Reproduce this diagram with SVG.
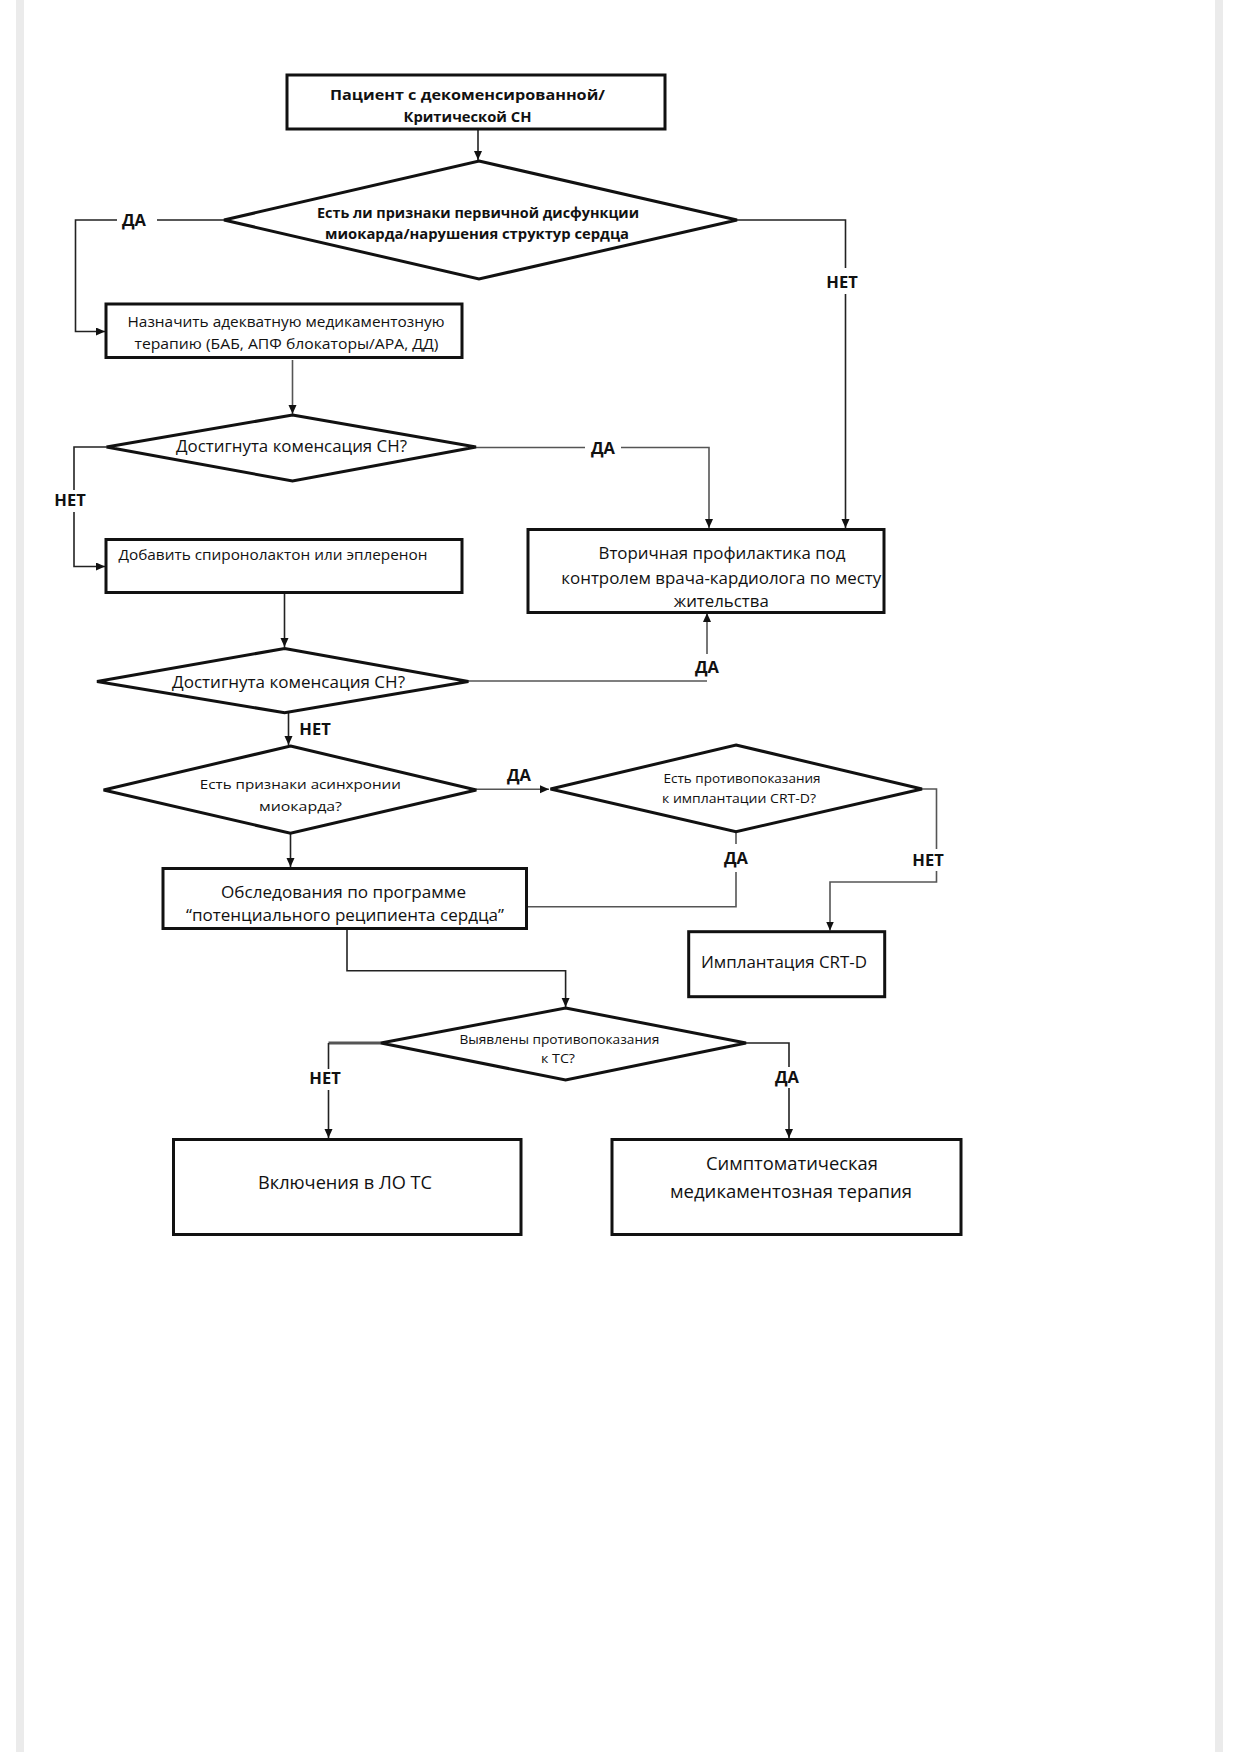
<svg xmlns="http://www.w3.org/2000/svg" width="1237" height="1752" viewBox="0 0 1237 1752">
<style>
.box{fill:#fff;stroke:#111;stroke-width:3}
.dia{fill:#fff;stroke:#111;stroke-width:3;stroke-linejoin:miter}
.c{fill:none;stroke:#222;stroke-width:1.6}
.cg{fill:none;stroke:#555;stroke-width:1.6}
.t{font-family:"Open Sans","Noto Sans","DejaVu Sans",sans-serif;fill:#111;text-anchor:middle}
.b{font-weight:bold}
.lbl{font-family:"Open Sans","Noto Sans","DejaVu Sans",sans-serif;font-weight:bold;font-size:16.5px;fill:#111;text-anchor:middle}
</style>
<defs>
<marker id="ah" markerUnits="userSpaceOnUse" markerWidth="10" markerHeight="10" refX="9" refY="4" orient="auto">
<path d="M0,0 L9,4 L0,8 z" fill="#111"/>
</marker>
</defs>
<rect x="0" y="0" width="1237" height="1752" fill="#fff"/>
<rect x="16" y="0" width="8" height="1752" fill="#ebebeb"/>
<rect x="1215" y="0" width="8" height="1752" fill="#ebebeb"/>

<g id="connectors">
<path class="c" d="M478,129 V160" marker-end="url(#ah)"/>
<path class="c" d="M224,220 H157 M117,220 H75.5 V331.5 H105" marker-end="url(#ah)"/>
<path class="c" d="M737,220 H845.5 V268 M845.5,294 V528" marker-end="url(#ah)"/>
<path class="cg" d="M292.5,360 V414" marker-end="url(#ah)"/>
<path class="cg" d="M476,447.5 H585 M621,447.5 H709 V528" marker-end="url(#ah)"/>
<path class="c" d="M106.5,447 H74 V490 M74,512 V566.5 H105" marker-end="url(#ah)"/>
<path class="c" d="M284.5,593 V647" marker-end="url(#ah)"/>
<path class="cg" d="M468,681 H707"/>
<path class="cg" d="M707,654 V613" marker-end="url(#ah)"/>
<path class="c" d="M288.5,713 V745" marker-end="url(#ah)"/>
<path class="cg" d="M476,789.3 H549" marker-end="url(#ah)"/>
<path class="c" d="M290.5,833 V867" marker-end="url(#ah)"/>
<path class="cg" d="M736,832 V844 M736,872 V906.7 H517"/>
<path class="cg" d="M922,789 H936.5 V849 M936.5,871 V882 H830 V930.5" marker-end="url(#ah)"/>
<path class="c" d="M347,928.5 V970.7 H565.6 V1007" marker-end="url(#ah)"/>
<path class="cg" d="M381,1043 H328.5" style="stroke-width:3"/>
<path class="c" d="M328.5,1043 V1069 M328.5,1090 V1138" marker-end="url(#ah)"/>
<path class="c" d="M746,1043 H789 V1067 M789,1088 V1138" marker-end="url(#ah)"/>
</g>

<g id="n1">
<rect class="box" x="287" y="75" width="378" height="54"/>
<text class="t b" font-size="15" x="467.5" y="100" textLength="275" lengthAdjust="spacingAndGlyphs">Пациент с декоменсированной/</text>
<text class="t b" font-size="15" x="467.5" y="122" textLength="128" lengthAdjust="spacingAndGlyphs">Критической СН</text>
</g>

<g id="d1">
<polygon class="dia" points="479,161 737,220 479,279 224,220"/>
<text class="t b" font-size="14" x="478" y="217.5" textLength="322" lengthAdjust="spacingAndGlyphs">Есть ли признаки первичной дисфункции</text>
<text class="t b" font-size="14" x="477" y="239" textLength="304" lengthAdjust="spacingAndGlyphs">миокарда/нарушения структур сердца</text>
</g>

<g id="n2">
<rect class="box" x="106" y="304" width="356" height="53.5"/>
<text class="t" font-size="14" x="286" y="327" textLength="317" lengthAdjust="spacingAndGlyphs">Назначить адекватную медикаментозную</text>
<text class="t" font-size="14" x="286.5" y="348.5" textLength="304" lengthAdjust="spacingAndGlyphs">терапию (БАБ, АПФ блокаторы/АРА, ДД)</text>
</g>

<g id="d2">
<polygon class="dia" points="292.5,415 476,447 292.5,481 106.5,447"/>
<text class="t" font-size="17" x="291.5" y="452" textLength="231" lengthAdjust="spacingAndGlyphs">Достигнута коменсация СН?</text>
</g>

<g id="n3">
<rect class="box" x="528" y="529.5" width="356" height="83"/>
<text class="t" font-size="16.5" x="722" y="558.5" textLength="247" lengthAdjust="spacingAndGlyphs">Вторичная профилактика под</text>
<text class="t" font-size="16.5" x="721.3" y="584" textLength="320" lengthAdjust="spacingAndGlyphs">контролем врача-кардиолога по месту</text>
<text class="t" font-size="16.5" x="721.3" y="607" textLength="95" lengthAdjust="spacingAndGlyphs">жительства</text>
</g>

<g id="n4">
<rect class="box" x="106" y="539.5" width="356" height="53"/>
<text class="t" font-size="14.5" x="273" y="560" textLength="309" lengthAdjust="spacingAndGlyphs">Добавить спиронолактон или эплеренон</text>
</g>

<g id="d3">
<polygon class="dia" points="284.6,648.5 468.4,681.5 284.6,712.7 97,681.5"/>
<text class="t" font-size="17" x="288.5" y="687.5" textLength="233" lengthAdjust="spacingAndGlyphs">Достигнута коменсация СН?</text>
</g>

<g id="d4">
<polygon class="dia" points="290.5,746 476.3,790 290.5,833.3 103.6,790"/>
<text class="t" font-size="13.5" x="300.3" y="789" textLength="201" lengthAdjust="spacingAndGlyphs">Есть признаки асинхронии</text>
<text class="t" font-size="13.5" x="300.5" y="811" textLength="83" lengthAdjust="spacingAndGlyphs">миокарда?</text>
</g>

<g id="d5">
<polygon class="dia" points="736,745 922,789 736,831.7 550.5,789"/>
<text class="t" font-size="12.5" x="742" y="782.5" textLength="157" lengthAdjust="spacingAndGlyphs">Есть противопоказания</text>
<text class="t" font-size="12.5" x="739" y="803" textLength="154" lengthAdjust="spacingAndGlyphs">к имплантации CRT-D?</text>
</g>

<g id="n5">
<rect class="box" x="163" y="868.5" width="363.5" height="60"/>
<text class="t" font-size="17" x="343.5" y="897.5" textLength="245" lengthAdjust="spacingAndGlyphs">Обследования по программе</text>
<text class="t" font-size="17" x="345" y="921" textLength="318" lengthAdjust="spacingAndGlyphs">“потенциального реципиента сердца”</text>
</g>

<g id="n6">
<rect class="box" x="688.7" y="931.7" width="196" height="65"/>
<text class="t" font-size="17" x="784" y="967.5" textLength="166" lengthAdjust="spacingAndGlyphs">Имплантация CRT-D</text>
</g>

<g id="d6">
<polygon class="dia" points="565.6,1008 746,1043 565.6,1080 381,1043"/>
<text class="t" font-size="12.5" x="559.4" y="1044" textLength="200" lengthAdjust="spacingAndGlyphs">Выявлены противопоказания</text>
<text class="t" font-size="12.5" x="558" y="1063" textLength="34" lengthAdjust="spacingAndGlyphs">к ТС?</text>
</g>

<g id="n7">
<rect class="box" x="173.5" y="1139.5" width="347.5" height="95"/>
<text class="t" font-size="18" x="345" y="1189" textLength="174" lengthAdjust="spacingAndGlyphs">Включения в ЛО ТС</text>
</g>

<g id="n8">
<rect class="box" x="612" y="1139.5" width="349" height="95"/>
<text class="t" font-size="18" x="792" y="1169.5" textLength="172" lengthAdjust="spacingAndGlyphs">Симптоматическая</text>
<text class="t" font-size="18" x="791" y="1197.5" textLength="242" lengthAdjust="spacingAndGlyphs">медикаментозная терапия</text>
</g>

<g id="labels">
<text class="lbl" x="134" y="226">ДА</text>
<text class="lbl" x="842" y="287.5">НЕТ</text>
<text class="lbl" x="603" y="453.5">ДА</text>
<text class="lbl" x="70" y="506">НЕТ</text>
<text class="lbl" x="707" y="672.5">ДА</text>
<text class="lbl" x="315" y="735">НЕТ</text>
<text class="lbl" x="519" y="780.5">ДА</text>
<text class="lbl" x="736" y="864">ДА</text>
<text class="lbl" x="928" y="866">НЕТ</text>
<text class="lbl" x="325" y="1084">НЕТ</text>
<text class="lbl" x="787" y="1082.5">ДА</text>
</g>
</svg>
